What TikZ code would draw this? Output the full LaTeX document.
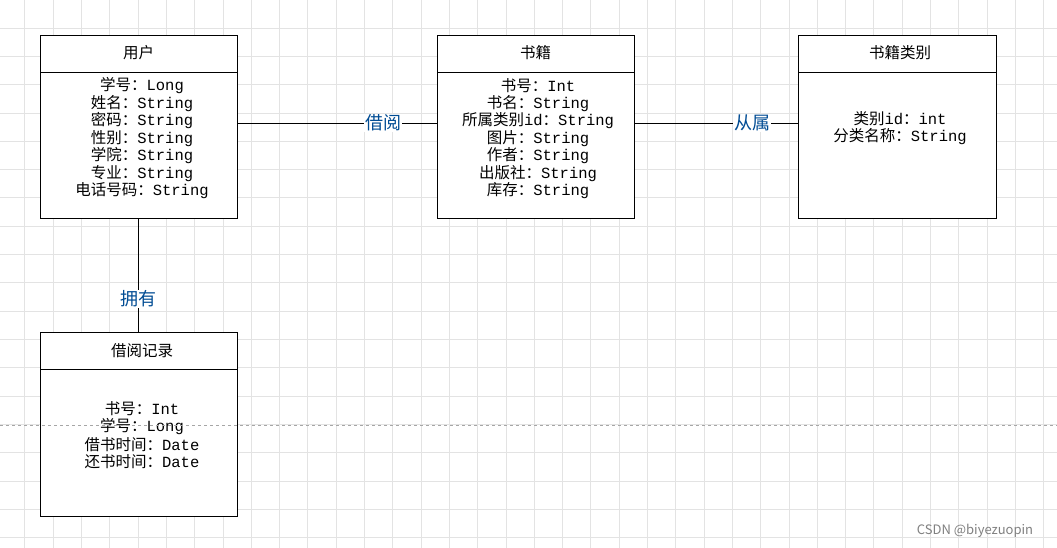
\documentclass[tikz,border=0pt]{standalone}
\usepackage{fontspec}
\setmainfont{Liberation Mono}
\newfontfamily\zh{Noto Sans CJK SC}
\begin{document}
\begin{tikzpicture}[x=1pt,y=-1pt,
  ent/.style={draw,line width=0.8pt,fill=white},
  fld/.style={font=\fontsize{15.5}{17}\selectfont,inner sep=0pt,anchor=center},
  rel/.style={font=\zh\fontsize{18}{20}\selectfont,text=black!60!blue!70!cyan,fill=white,inner sep=1pt},
  conn/.style={line width=0.8pt}]
\useasboundingbox (0,0) rectangle (1057,548);
\fill[white] (0,0) rectangle (1057,548);
\foreach \x in {24.7,53,...,1057} \draw[black!11,line width=0.6pt] (\x,0) -- (\x,548);
\foreach \y in {28,56.3,...,548} \draw[black!11,line width=0.6pt] (0,\y) -- (1057,\y);
% entities
\node[ent,minimum width=197pt,minimum height=183pt,anchor=north west] (u) at (40,35) {};
\draw (40,72) -- (237,72);
\node[ent,minimum width=197pt,minimum height=183pt,anchor=north west] (b) at (437,35) {};
\draw (437,72) -- (634,72);
\node[ent,minimum width=198pt,minimum height=183pt,anchor=north west] (c) at (798,35) {};
\draw (798,72) -- (996,72);
\node[ent,minimum width=197pt,minimum height=184pt,anchor=north west] (r) at (40,332) {};
\draw (40,369) -- (237,369);
% titles
\node[fld] (ut) at (138.5,53) {\zh 用户};
\node[fld] (bt) at (535.5,53) {\zh 书籍};
\node[fld] (ct) at (900,53) {\zh 书籍类别};
\node[fld] (rt) at (142,351) {\zh 借阅记录};
% fields
\foreach \t [count=\i] in {{{\zh 学号：}Long},{{\zh 姓名：}String},{{\zh 密码：}String},{{\zh 性别：}String},{{\zh 学院：}String},{{\zh 专业：}String},{{\zh 电话号码：}String}}
  \node[fld] (u\i) at (142,86+17.5*\i-17.5) {\t};
\foreach \t [count=\i] in {{{\zh 书号：}Int},{{\zh 书名：}String},{{\zh 所属类别}id{\zh ：}String},{{\zh 图片：}String},{{\zh 作者：}String},{{\zh 出版社：}String},{{\zh 库存：}String}}
  \node[fld] (b\i) at (538,86+17.5*\i-17.5) {\t};
\foreach \t [count=\i] in {{{\zh 类别}id{\zh ：}int},{{\zh 分类名称：}String}}
  \node[fld] (c\i) at (900,119+17.5*\i-17.5) {\t};
\foreach \t [count=\i] in {{{\zh 书号：}Int},{{\zh 学号：}Long},{{\zh 借书时间：}Date},{{\zh 还书时间：}Date}}
  \node[fld] (r\i) at (142,409+17.7*\i-17.7) {\t};
% connectors
\coordinate (ue) at (237,123); \coordinate (bw) at (437,123);
\coordinate (be) at (634,123); \coordinate (cw) at (798,123);
\coordinate (us) at (138,218); \coordinate (rn) at (138,332);
\draw[conn] (ue) -- (bw) node[rel,pos=0.73] {借阅};
\draw[conn] (be) -- (cw) node[rel,pos=0.72] {从属};
\draw[conn] (us) -- (rn) node[rel,pos=0.71] {拥有};
\draw[black!35,dashed,line width=0.6pt] (0,425) -- (1057,425);
\node[font=\zh\fontsize{13}{14}\selectfont,text=black!50] (wm) at (975,531) {CSDN @biyezuopin};
\end{tikzpicture}
\end{document}
